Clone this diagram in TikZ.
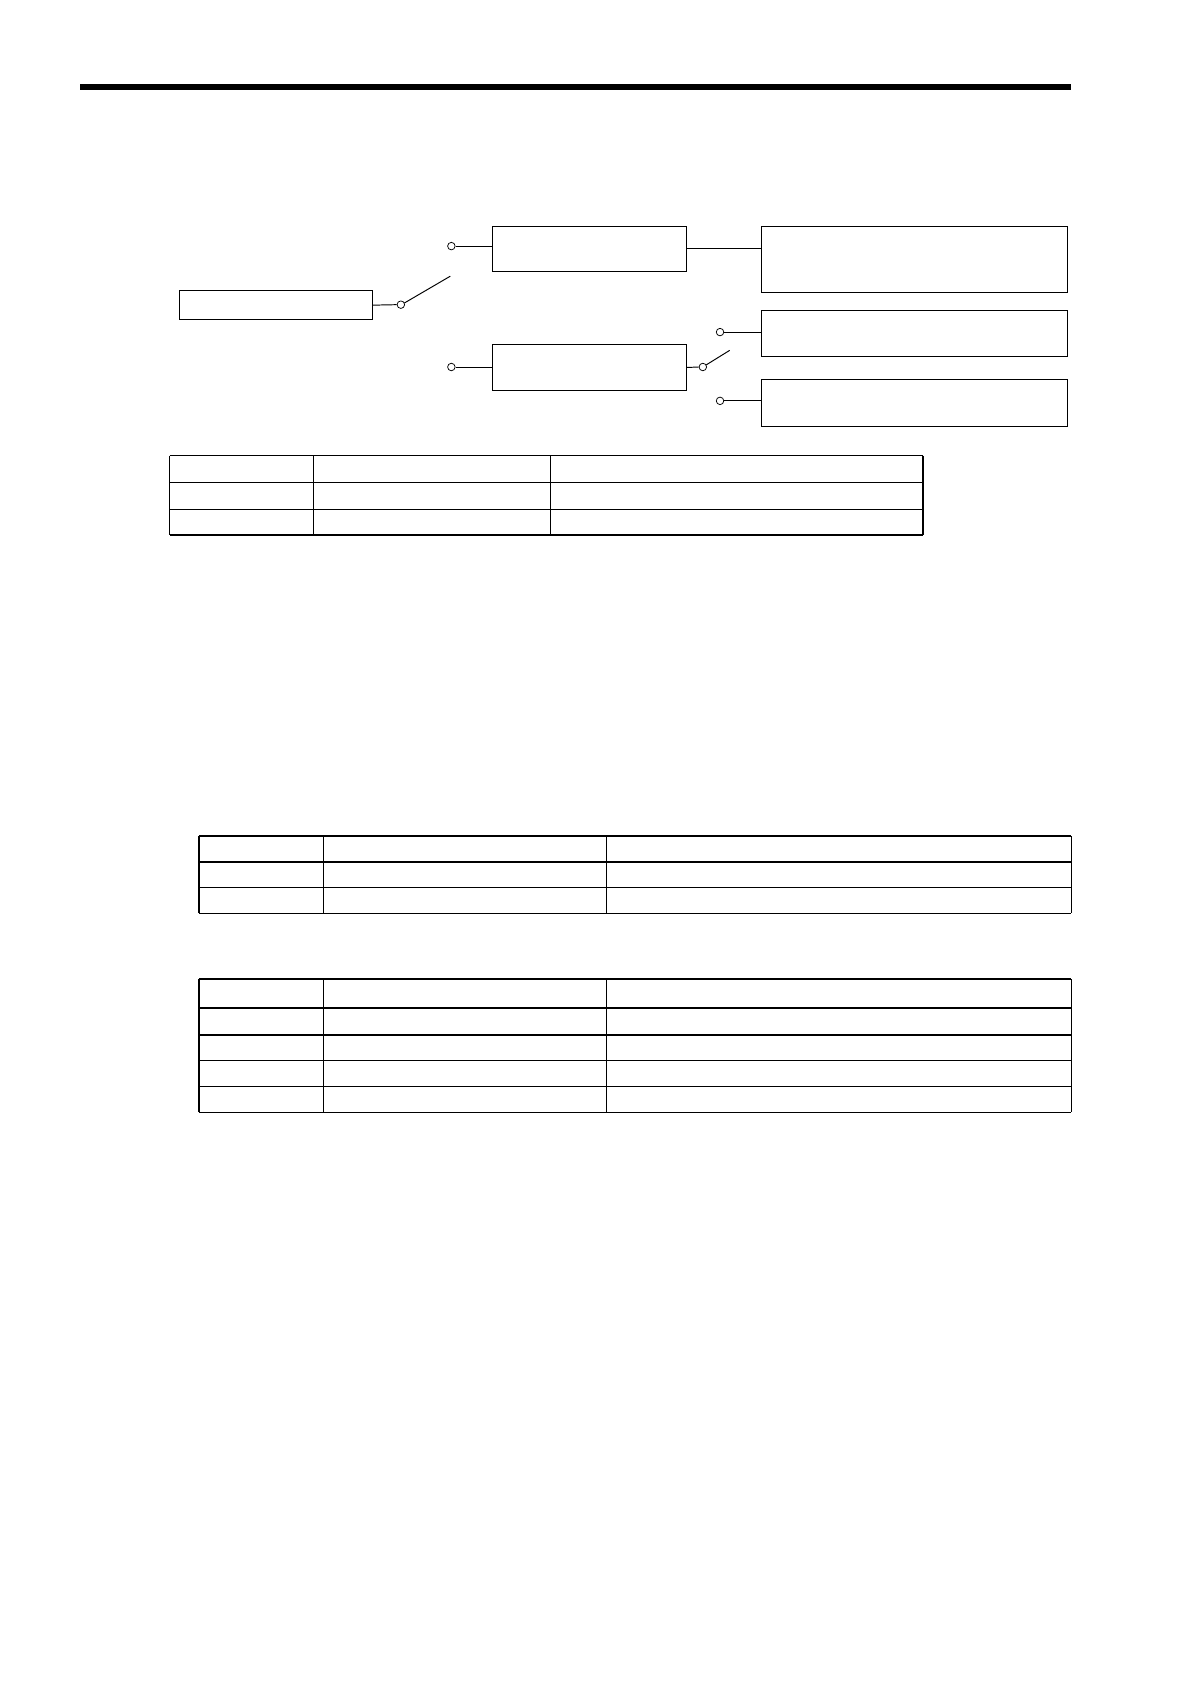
\documentclass[tikz,border=0pt]{standalone}
\begin{document}
\begin{tikzpicture}[x=1pt,y=-1pt,
  box/.style={draw,line width=0.9pt,anchor=north west,inner sep=0pt},
  contact/.style={draw,circle,fill=white,line width=0.7pt,inner sep=0pt,minimum size=7pt},
  wire/.style={line width=0.9pt},
  hrule/.style={line width=1.3pt},
  vrule/.style={line width=0.8pt}]
\useasboundingbox (0,0) rectangle (1107.5,1567);
% top bar
\fill (74,78) rectangle (997,84);
% boxes
\node[box,minimum width=179pt,minimum height=27pt] (A) at (167,270) {};
\node[box,minimum width=180pt,minimum height=42pt] (B) at (458,210) {};
\node[box,minimum width=180pt,minimum height=43pt] (C) at (458,320) {};
\node[box,minimum width=285pt,minimum height=62pt] (D) at (708,210) {};
\node[box,minimum width=285pt,minimum height=43pt] (E) at (708,288) {};
\node[box,minimum width=285pt,minimum height=43pt] (F) at (708,353) {};
% switch 1
\node[contact] (s1) at (373,283.5) {};
\node[contact] (u1) at (420,229) {};
\node[contact] (l1) at (420,341.5) {};
\coordinate (b1) at (419,257);
\draw[wire] (A.east) -- (s1.west);
\draw[wire] (s1) ++(25:3.5pt) -- (b1);
\draw[wire] (u1.east) -- (u1.east -| B.west);
\draw[wire] (l1.east) -- (l1.east -| C.west);
\draw[wire] (B.east) -- (B.east -| D.west);
% switch 2
\node[contact] (s2) at (654,341.5) {};
\node[contact] (u2) at (670,309) {};
\node[contact] (l2) at (670,373) {};
\coordinate (b2) at (679,326);
\draw[wire] (C.east) -- (s2.west);
\draw[wire] (s2) ++(32:3.5pt) -- (b2);
\draw[wire] (u2.east) -- (u2.east -| E.west);
\draw[wire] (l2.east) -- (l2.east -| F.west);
% table 1
\foreach \y in {424,449,474,498} \draw[hrule] (158,\y) -- (859,\y);
\foreach \x in {158,859} \draw[hrule] (\x,424) -- (\x,498);
\foreach \x in {292,512} \draw[vrule] (\x,424) -- (\x,498);
% table 2
\foreach \y in {778,802,826,850} \draw[hrule] (185,\y) -- (997,\y);
\foreach \x in {185,997} \draw[hrule] (\x,778) -- (\x,850);
\foreach \x in {301,564} \draw[vrule] (\x,778) -- (\x,850);
% table 3
\foreach \y in {911,938,963,987,1011,1035} \draw[hrule] (185,\y) -- (997,\y);
\foreach \x in {185,997} \draw[hrule] (\x,911) -- (\x,1035);
\foreach \x in {301,564} \draw[vrule] (\x,911) -- (\x,1035);
\end{tikzpicture}
\end{document}
